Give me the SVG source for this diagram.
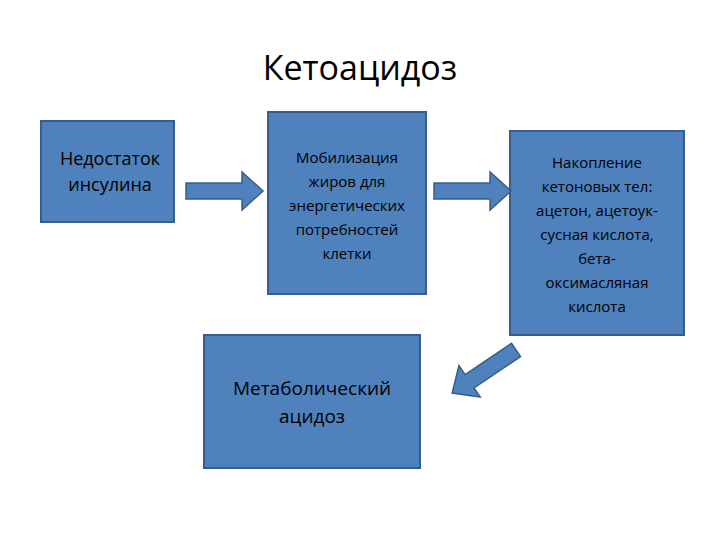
<svg xmlns="http://www.w3.org/2000/svg" width="720" height="540" viewBox="0 0 720 540">
<defs><style>
.b{fill:#4f81bd;stroke:#385d8a;stroke-width:2}
.t{font-family:"Open Sans","Liberation Sans",sans-serif;fill:#000;text-anchor:middle}
.a{fill:#4f81bd;stroke:#385d8a;stroke-width:1.5}
</style>
<path id="arr" d="M0,-8 L56,-8 L56,-19 L77,0 L56,19 L56,8 L0,8 Z"/></defs>
<rect width="720" height="540" fill="#fff"/>
<text class="t" x="360" y="80" font-size="34">Кетоацидоз</text>
<g id="n1"><rect class="b" x="41" y="121" width="133" height="101"/>
<text class="t" font-size="18"><tspan x="110" y="165">Недостаток</tspan><tspan x="110" y="191">инсулина</tspan></text></g>
<g id="n2"><rect class="b" x="268" y="112" width="158" height="182"/>
<text class="t" font-size="15"><tspan x="347" y="163">Мобилизация</tspan><tspan x="347" y="187">жиров для</tspan><tspan x="347" y="211">энергетических</tspan><tspan x="347" y="235">потребностей</tspan><tspan x="347" y="259">клетки</tspan></text></g>
<g id="n3"><rect class="b" x="510" y="131" width="174" height="204"/>
<text class="t" font-size="15"><tspan x="597" y="168">Накопление</tspan><tspan x="597" y="192">кетоновых тел:</tspan><tspan x="597" y="216">ацетон, ацетоук-</tspan><tspan x="597" y="240">сусная кислота,</tspan><tspan x="597" y="264">бета-</tspan><tspan x="597" y="288">оксимасляная</tspan><tspan x="597" y="312">кислота</tspan></text></g>
<g id="n4"><rect class="b" x="204" y="335" width="216" height="133"/>
<text class="t" font-size="19"><tspan x="312" y="395">Метаболический</tspan><tspan x="312" y="423">ацидоз</tspan></text></g>
<g id="connectors">
<use href="#arr" class="a" transform="translate(186,191)"/>
<use href="#arr" class="a" transform="translate(434,191)"/>
<use href="#arr" class="a" transform="translate(516,350) rotate(146)"/>
</g>
</svg>
